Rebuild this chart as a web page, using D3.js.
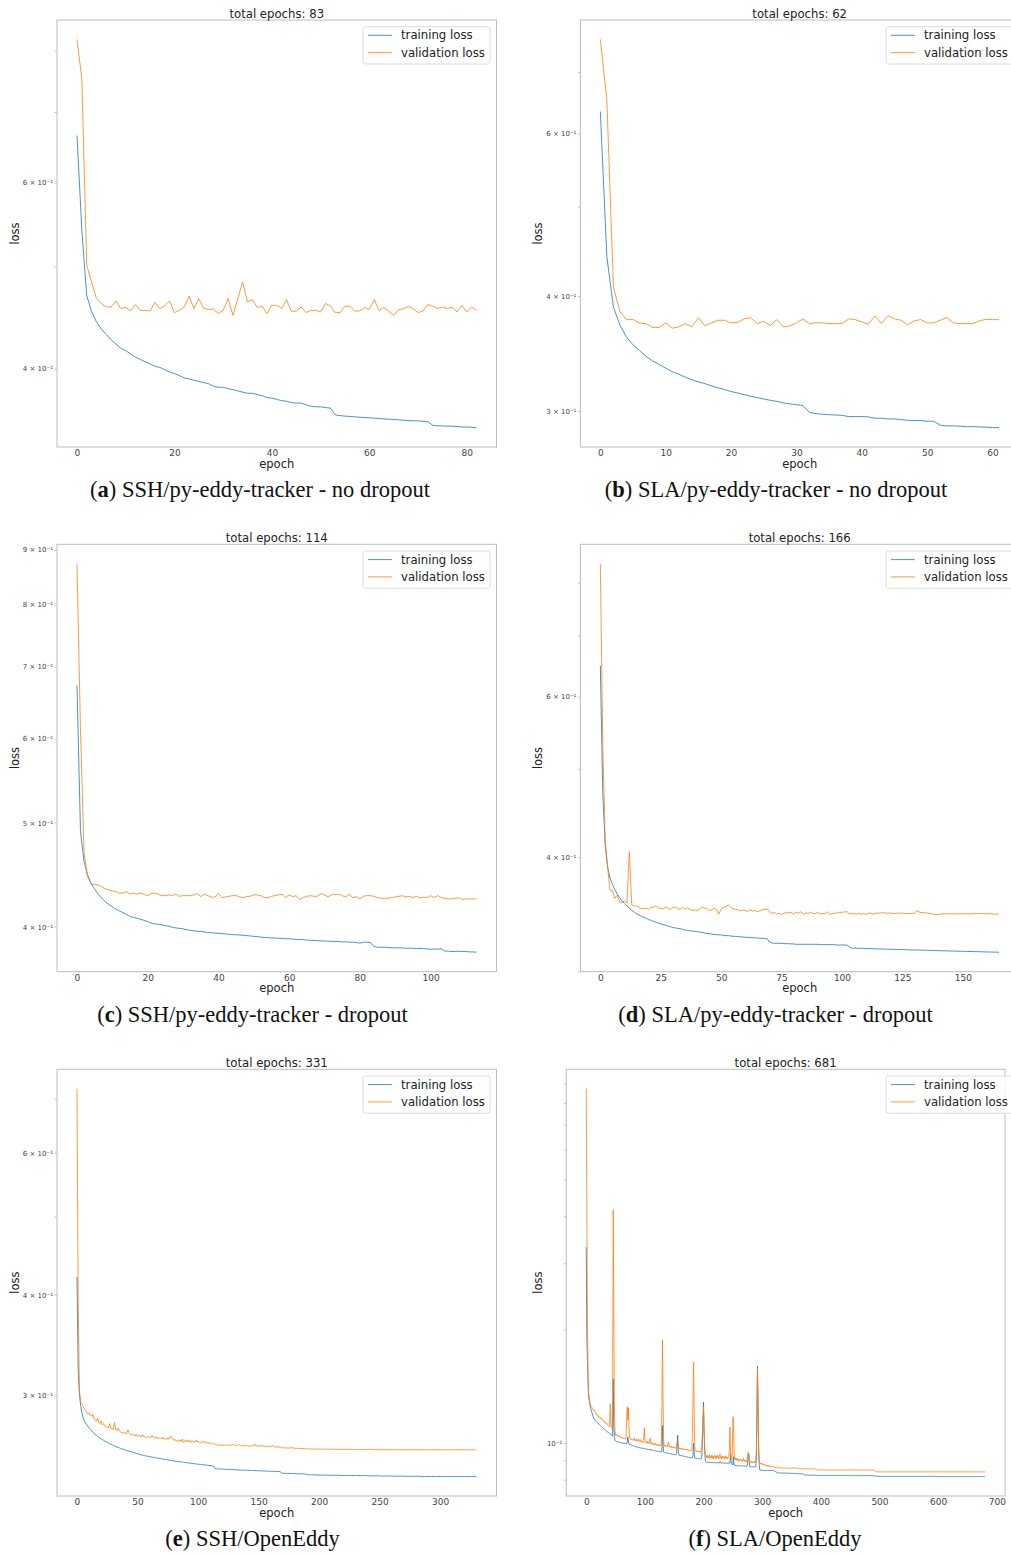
<!DOCTYPE html>
<html>
<head>
<meta charset="utf-8">
<script src="https://cdn.jsdelivr.net/npm/d3@7"></script>
<style>
  body { margin: 0; background: #fff; }
</style>
</head>
<body>
<script>
// ---- data (loss per epoch) ----

const trainA = [.665,.541,.469,.453,.443,.436,.431,.426,.422,.418,
  .416,.413,.410,.408,.406,.404,.402,.401,.3991,.397,
  .3957,.394,.392,.391,.390,.389,.388,.387,.385,.384,
  .384,.383,.382,.381,.380,.379,.379,.378,.377,.3755,
  .375,.374,.373,.3725,.3714,.371,.371,.3696,.3685,.368,
  .368,.3674,.367,.3616,.361,.3606,.3604,.360,.3598,.3595,
  .3593,.359,.3587,.3584,.3582,.358,.3577,.3574,.3572,.3569,
  .3569,.3566,.3564,.3535,.353,.353,.3528,.3528,.3525,.3522,
  .3522,.3519,.3517];
const valA = [.820,.753,.501,.483,.466,.461,.4575,.4575,.4636,.456,
  .457,.4536,.460,.4541,.4541,.4536,.4622,.456,.4585,.4636,
  .452,.4541,.4575,.4683,.456,.466,.4563,.455,.4556,.451,
  .4541,.466,.4493,.466,.483,.4626,.4649,.457,.4583,.451,
  .4592,.4592,.456,.4649,.4533,.4533,.4575,.452,.4541,.4541,
  .4525,.461,.4583,.452,.452,.4583,.4583,.4536,.4536,.457,
  .455,.4649,.4541,.457,.4533,.4493,.455,.4556,.4583,.4556,
  .452,.4533,.460,.4583,.456,.4575,.456,.4575,.4525,.4592,
  .4525,.4575,.4541];

const trainB = [.634,.441,.389,.3718,.361,.354,.349,.344,.340,.337,
  .334,.331,.329,.3265,.3245,.3227,.3213,.3195,.3179,.3166,
  .315,.3139,.3126,.3113,.3103,.3092,.3082,.3074,.3062,.3054,
  .3049,.3041,.2991,.2981,.2976,.2973,.2971,.2968,.2959,.2959,
  .2959,.2957,.2947,.2947,.2942,.2942,.2937,.2932,.293,.293,
  .2925,.2925,.2896,.2891,.2891,.2889,.2886,.2886,.2884,.2882,
  .2879,.2879];
const valB = [.759,.652,.409,.3843,.377,.377,.3739,.3733,.3696,.3696,
  .3739,.369,.3702,.3733,.3702,.3789,.3714,.3739,.3764,.3764,
  .3739,.3745,.3777,.3789,.3733,.3755,.3714,.377,.3702,.3711,
  .3739,.3777,.373,.3742,.3739,.3733,.3733,.3733,.3777,.377,
  .3748,.3727,.3805,.3733,.3808,.3777,.3764,.3721,.3758,.377,
  .3739,.3739,.3764,.3789,.3739,.3733,.3733,.3733,.3758,.3773,
  .377,.377];

const trainC = [.672,.491,.4605,.4475,.4396,.4343,.4294,.4257,.4226,.4202,
  .4178,.416,.4143,.4128,.4113,.4093,.4086,.4078,.4069,.406,
  .4049,.4037,.4029,.4026,.402,.4014,.4009,.4,.3994,.3991,
  .3986,.398,.3974,.3969,.3966,.3966,.396,.3954,.3954,.3951,
  .3949,.3946,.3943,.394,.3937,.3937,.3934,.3932,.3929,.3926,
  .3923,.392,.3917,.3912,.3912,.3909,.3909,.3906,.3906,.3903,
  .3903,.39,.3897,.3897,.3895,.3892,.3889,.3889,.3886,.3886,
  .3883,.3883,.388,.388,.388,.3877,.3877,.3874,.3874,.3872,
  .3866,.3874,.3874,.3872,.3838,.3832,.3832,.3832,.383,.3827,
  .3827,.3827,.3827,.3824,.3824,.3824,.3821,.3824,.3821,.3818,
  .3816,.3818,.3816,.3821,.3802,.38,.3797,.3797,.38,.3797,
  .3797,.3794,.3794,.3791];
const valC = [.873,.609,.469,.446,.439,.4387,.438,.4365,.4343,.4334,
  .4324,.4318,.4303,.4306,.4318,.4294,.4306,.4294,.4303,.4294,
  .4281,.43,.4306,.4294,.4281,.4281,.4288,.4281,.4296,.4275,
  .4281,.4281,.4281,.4288,.43,.4272,.4294,.4281,.4269,.4266,
  .4303,.4263,.4269,.4275,.4281,.4281,.4269,.4263,.4275,.4275,
  .4288,.4288,.4281,.4263,.4263,.4275,.4281,.4288,.4294,.4263,
  .4288,.4272,.4281,.4245,.4263,.4275,.4281,.4275,.4275,.43,
  .4288,.4269,.4288,.4294,.4294,.4281,.4269,.4294,.4263,.4272,
  .4251,.4275,.4281,.4281,.4275,.4263,.4257,.4257,.4257,.4263,
  .4269,.4275,.4281,.4269,.4275,.4263,.4275,.4263,.4266,.4263,
  .4281,.4263,.4281,.4263,.4257,.4251,.4251,.4257,.4263,.4245,
  .4251,.4251,.4251,.4251];

const trainD = [.649,.472,.4126,.3907,.380,.3737,.3687,.3647,.3614,.3584,
  .356,.3539,.3518,.35,.3486,.3471,.3459,.3448,.3439,.343,
  .3421,.3413,.3404,.3398,.339,.3382,.3376,.3371,.3365,.3359,
  .3353,.3348,.3345,.3342,.3337,.3331,.3328,.3325,.3322,.332,
  .3317,.3314,.3311,.3306,.3303,.33,.3297,.3294,.3292,.3291,
  .3289,.3286,.3284,.3284,.3281,.3278,.3278,.3276,.3273,.3273,
  .327,.327,.3267,.3267,.3265,.3265,.3262,.3262,.3259,.3259,
  .3232,.3224,.3221,.3221,.3221,.3221,.3218,.3218,.3218,.3216,
  .3216,.3213,.3213,.3213,.3213,.3213,.3213,.3213,.3213,.3213,
  .3213,.321,.321,.321,.321,.321,.321,.321,.3207,.3207,
  .3207,.3207,.3207,.3192,.3183,.3181,.3181,.3181,.3181,.318,
  .3178,.3178,.3178,.3177,.3176,.3176,.3175,.3175,.3174,.3173,
  .3173,.3172,.3172,.3171,.317,.3171,.317,.3169,.3168,.3168,
  .3167,.3167,.3166,.3166,.3165,.3165,.3164,.3164,.3163,.3162,
  .3162,.3161,.3161,.316,.316,.3159,.3159,.3158,.3158,.3157,
  .3157,.3156,.3156,.3155,.3155,.3154,.3154,.3153,.3153,.3152,
  .3152,.3151,.3151,.315,.315,.3149];
const valD = [.839,.535,.418,.3907,.3684,.3678,.3608,.3637,.3577,.3569,
  .3586,.3563,.4058,.3548,.354,.354,.3527,.3518,.3516,.3518,
  .3509,.3527,.3527,.354,.3521,.3518,.3513,.3527,.3521,.3504,
  .3527,.3527,.3518,.3509,.3527,.3509,.3524,.3509,.3498,.3504,
  .3498,.3509,.353,.3518,.3518,.3498,.3504,.3518,.3509,.3468,
  .3513,.3527,.3535,.3548,.3527,.3513,.3509,.3504,.3495,.3504,
  .3498,.3492,.3504,.3495,.3498,.3489,.3495,.3504,.3509,.3513,
  .3489,.3474,.3483,.3468,.3474,.3462,.3474,.3483,.3477,.3483,
  .3468,.3486,.3474,.3489,.3465,.3477,.3474,.3483,.3474,.3471,
  .3483,.3468,.3474,.3471,.3486,.3465,.3471,.3474,.3477,.3483,
  .3483,.3486,.3489,.3471,.3474,.3471,.3465,.3474,.3468,.3471,
  .3465,.3477,.3474,.3465,.3477,.3474,.3477,.348,.3477,.3474,
  .3477,.3474,.3471,.3477,.3474,.3477,.3471,.3474,.3471,.3474,
  .3474,.3498,.3486,.3477,.3483,.3477,.3474,.3471,.3465,.3462,
  .3465,.3468,.3468,.3471,.3468,.3471,.3468,.3471,.3468,.3471,
  .3468,.3471,.3471,.3468,.3471,.3474,.3471,.3474,.3471,.3471,
  .3468,.3474,.3471,.3465,.3468,.3468];

const trainE = [.421,.3223,.3015,.2916,.2861,.282,.2794,.2775,.2762,.2749,
  .2736,.2726,.2715,.2702,.2694,.2686,.2679,.2672,.2665,.2658,
  .2651,.2646,.2641,.2635,.263,.2625,.2619,.2614,.261,.2606,
  .2602,.2598,.2595,.2591,.2588,.2584,.2581,.2578,.2575,.2571,
  .2568,.2565,.2562,.256,.2557,.2554,.2552,.2549,.2547,.2544,
  .2542,.2539,.2537,.2534,.2532,.2529,.2527,.2526,.2524,.2522,
  .2521,.2519,.2517,.2516,.2514,.2512,.2511,.2509,.2508,.2506,
  .2505,.2503,.2502,.25,.2499,.2497,.2496,.2495,.2493,.2492,
  .249,.2489,.2487,.2486,.2485,.2484,.2483,.2482,.248,.2479,
  .2478,.2477,.2476,.2475,.2473,.2472,.2471,.247,.2469,.2468,
  .2467,.2466,.2465,.2464,.2463,.2462,.2461,.246,.2459,.2458,
  .2457,.2456,.2455,.2453,.2437,.2435,.2435,.2434,.2434,.2433,
  .2433,.2432,.2432,.2431,.2431,.243,.243,.243,.2429,.2429,
  .2428,.2428,.2427,.2427,.2427,.2426,.2426,.2425,.2425,.2425,
  .2424,.2424,.2424,.2423,.2423,.2423,.2422,.2422,.2422,.2421,
  .2421,.2421,.242,.242,.242,.2419,.2419,.2419,.2418,.2418,
  .2418,.2417,.2417,.2417,.2416,.2416,.2416,.2415,.2415,.2405,
  .2404,.2404,.2404,.2403,.2403,.2403,.2402,.2402,.2402,.2402,
  .2401,.2401,.2401,.2401,.24,.24,.24,.24,.2399,.2399,
  .2394,.2394,.2394,.2393,.2393,.2393,.2393,.2393,.2392,.2392,
  .2392,
  .2392,.2392,.2391,.2391,.2391,.2391,.2391,.2391,.239,.239,
  .239,.239,.239,.239,.239,.239,.239,.2389,.2389,.2389,
  .2389,.2389,.2389,.2389,.2389,.2389,.2389,.2389,.2388,.2388,
  .2388,.2388,.2388,.2388,.2388,.2388,.2388,.2388,.2388,.2387,
  .2387,.2386,.2386,.2386,.2386,.2386,.2386,.2386,.2386,.2386,
  .2385,.2385,.2385,.2385,.2385,.2385,.2385,.2385,.2385,.2385,
  .2384,.2384,.2384,.2384,.2384,.2384,.2384,.2384,.2384,.2384,
  .2384,.2383,.2383,.2383,.2383,.2383,.2383,.2383,.2383,.2383,
  .2383,.2383,.2383,.2382,.2382,.2382,.2382,.2382,.2382,.2382,
  .2382,.2382,.2382,.2382,.2382,.2382,.2382,.2382,.2382,.2382,
  .2382,.2382,.2381,.2381,.2381,.2381,.2381,.2381,.2381,.2381,
  .2381,.2381,.2381,.2381,.2381,.2381,.2381,.2381,.2381,.2381,
  .2381,.2381,.2381,.2381,.2381,.2381,.2381,.2381,.2381,.2381];
const valE = [.7205,.39,.305,.2944,.2935,.2915,.289,.2875,.2855,.2848,
  .2858,.2835,.283,.2845,.2808,.28,.279,.2815,.278,.277,
  .279,.276,.277,.275,.2745,.274,.2735,.277,.2735,.273,
  .2725,.278,.272,.2715,.2735,.2712,.2705,.27,.2695,.27,
  .2695,.269,.272,.27,.2685,.268,.269,.268,.2675,.269,
  .267,.268,.267,.2665,.2685,.2668,.2672,.2665,.266,.267,
  .2665,.266,.268,.2665,.2658,.267,.2655,.2662,.265,.266,
  .265,.2665,.2648,.2655,.2645,.266,.265,.2668,.2672,.265,
  .264,.2648,.2635,.264,.2632,.2645,.263,.265,.2625,.264,
  .263,.2645,.2628,.264,.2625,.264,.263,.2625,.2645,.2628,
  .2635,.2625,.262,.2632,.2625,.2635,.262,.2618,.263,.2615,
  .2625,.2618,.2612,.262,.261,.2605,.2608,.2604,.261,.2603,
  .2606,.2602,.2605,.2603,.2608,.2603,.2606,.2602,.2608,.2612,
  .2605,.2602,.2606,.2602,.261,.2601,.2598,.2603,.2599,.2604,
  .2598,.2601,.2596,.26,.2596,.2602,.2597,.2612,.2598,.2603,
  .2595,.26,.2596,.2606,.2594,.2598,.2593,.2597,.2593,.2596,
  .2592,.2598,.2603,.2593,.259,.2595,.2589,.2592,.2588,.2585,
  .2583,.2587,.2582,.2586,.2582,.2584,.2581,.2592,.2582,.2584,
  .258,.2583,.2579,.2582,.2578,.2581,.2578,.258,.2577,.2579,
  .2576,.2578,.2576,.2575,.2578,.2575,.2577,.2574,.2576,.2574,
  .2577,
  .2575,.2574,.2577,.2573,.2575,.2574,.2576,.2573,.2575,.2578,
  .2574,.2573,.2575,.2572,.2574,.2576,.2573,.2574,.2572,.2575,
  .2573,.2574,.2572,.2575,.2573,.2572,.2574,.2573,.2571,.2574,
  .2572,.2573,.2571,.2574,.2572,.2573,.2571,.2572,.2574,.2571,
  .2576,.2572,.2571,.2573,.2571,.2572,.257,.2572,.2571,.2573,
  .2571,.2572,.257,.2571,.2573,.257,.2571,.2572,.257,.2571,
  .2572,.257,.2571,.257,.2572,.2571,.257,.2571,.257,.2572,
  .257,.2571,.257,.2572,.257,.2571,.257,.2571,.2572,.257,
  .2571,.257,.2571,.257,.2572,.257,.2571,.257,.2571,.257,
  .2571,.257,.2572,.257,.2571,.257,.2571,.257,.257,.2571,
  .257,.2571,.257,.257,.2571,.257,.2571,.257,.257,.2571,
  .257,.257,.2571,.257,.257,.2571,.257,.257,.2571,.257,
  .257,.2571,.257,.257,.2571,.257,.257,.257,.2571,.257];

const trainF = [.331,.195,.1657,.1467,.1325,.1298,.1272,.1246,.123,.1215,
  .12,.1187,.1172,.1165,.1158,.1152,.1146,.1141,.1137,.1133,
  .1129,.1125,.1121,.1117,.1114,.111,.1106,.1103,.1099,.1096,
  .1092,.1089,.1085,.1082,.1079,.1075,.1072,.1069,.1066,.1062,
  .1059,.1056,.1053,.105,.1047,.1045,.148,.11,.104,.1016,
  .1014,.1012,.101,.1009,.1008,.1007,.1006,.1005,.1004,.1003,
  .1002,.1001,.1,.0999,.0999,.0998,.0998,.0997,.0997,.0996,
  .101,.104,.1005,.0992,.0991,.099,.0989,.0987,.0986,.0985,
  .0984,.0983,.0981,.098,.0979,.0978,.0976,.0975,.0975,.0974,
  .0973,.0972,.0972,.0971,.097,.097,.0969,.0968,.0967,.097,
  .0966,.0965,.0965,.0964,.0963,.0962,.0962,.0961,.096,.0965,
  .0959,.0959,.0958,.0957,.0957,.0956,.0955,.0955,.0954,.0953,
  .0953,.0952,.0951,.0951,.095,.0949,.0949,.0948,.0947,.096,
  .1114,.099,.0946,.0945,.0944,.0943,.0942,.0942,.0941,.094,
  .094,.0939,.0938,.0937,.0936,.0936,.0935,.0935,.0934,.0933,
  .0933,.0932,.0932,.0931,.0935,.099,.105,.095,.0929,.0928,
  .0928,.0927,.0926,.0926,.0925,.0924,.0924,.0923,.0922,.0921,
  .092,.0919,.0918,.0918,.0917,.0917,.0916,.0916,.0915,.0915,
  .0914,.0914,.0925,.1,.094,.0913,.0912,.0912,.0911,.0911,
  .0911,.091,.091,.091,.0909,.0909,.0909,.092,.1,.115,
  .1284,.105,.095,.09,.0893,.089,.0889,.0889,.0889,.0888,
  .0888,.0888,.0888,.0888,.0888,.0888,.0887,.0887,.0887,.0887,
  .0887,.0887,.0887,.0887,.0887,.0887,.0886,.0886,.0893,.0886,
  .0886,.0886,.0886,.0886,.0886,.0886,.0885,.0885,.0885,.0885,
  .0885,.0885,.0885,.0885,.0885,.0885,.0937,.0895,.0885,.088,
  .0875,.092,.088,.0872,.0872,.0872,.0872,.0871,.0871,.0871,
  .0871,.0871,.0871,.087,.087,.087,.087,.087,.087,.087,
  .0869,.0869,.0869,.0869,.0869,.088,.092,.0937,.089,.0866,
  .0866,.0866,.0866,.0866,.0866,.0865,.0865,.0865,.0865,.0865,
  .09,.12,.1597,.12,.095,.087,.0848,.0847,.0847,.0847,
  .0847,.0847,.0847,.0846,.0846,.0846,.0846,.0846,.0846,.0846,
  .0846,.0846,.0846,.0846,.0846,.0846,.0846,.0846,.0846,.0846,
  .0846,.0844,.0842,.084,.0838,.0836,.0834,.0834,.0834,.0834,
  .0833,.0833,.0833,.0833,.0833,.0833,.0833,.0833,.0833,.0833,
  .0833,.0833,.0832,.0832,.0832,.0832,.0832,.0832,.0832,.0832,
  .0831,.0831,.0831,.0831,.0831,.0831,.0831,.0831,.0831,.0831,
  .0831,.083,.083,.083,.083,.083,.0829,.0829,.0829,.0829,
  .0829,.0826,.0824,.0823,.0823,.0822,.0822,.0822,.0822,.0822,
  .0822,.0822,.0822,.0822,.0822,.0822,.0822,.0822,.0822,.0822,
  .0821,.0821,.0821,.0821,.0821,.0821,.0821,.0821,.0821,.0821,
  .0821,.0821,.0821,.0821,.0821,.0821,.0821,.0821,.0821,.0821,
  .0821,.0821,.0821,.0821,.0821,.0821,.0821,.0821,.0821,.0821,
  .0821,.0821,.0821,.0821,.0821,.0821,.0821,.0821,.0821,.0821,
  .0821,.0821,.0821,.0821,.0821,.0821,.0821,.0821,.0821,.0821,
  .0821,.0821,.0821,.0821,.0821,.0821,.0821,.0821,.0821,.0821,
  .082,.082,.082,.082,.082,.082,.082,.082,.082,.082,
  .082,.082,.082,.082,.082,.082,.082,.082,.082,.082,
  .082,.082,.082,.082,.082,.082,.082,.082,.082,.082,
  .082,.082,.082,.082,.082,.082,.082,.082,.082,.082,
  .0819,.0818,.0818,.0818,.0817,.0817,.0817,.0817,.0817,.0817,
  .0816,.0816,.0816,.0816,.0816,.0816,.0816,.0816,.0816,.0816,
  .0816,.0816,.0816,.0816,.0816,.0816,.0816,.0816,.0816,.0816,
  .0816,.0816,.0816,.0816,.0816,.0816,.0816,.0816,.0816,.0816,
  .0816,.0816,.0816,.0816,.0816,.0816,.0816,.0816,.0816,.0816,
  .0816,.0816,.0816,.0816,.0816,.0816,.0816,.0816,.0816,.0816,
  .0816,.0816,.0816,.0816,.0816,.0816,.0816,.0816,.0816,.0816,
  .0816,.0816,.0816,.0816,.0816,.0816,.0816,.0816,.0816,.0816,
  .0816,.0816,.0816,.0816,.0816,.0816,.0816,.0816,.0816,.0816,
  .0816,.0816,.0816,.0816,.0816,.0816,.0816,.0816,.0816,.0816,
  .0816,.0816,.0816,.0816,.0816,.0816,.0816,.0816,.0816,.0816,
  .0815,.0815,.0815,.0815,.0815,.0815,.0815,.0815,.0815,.0815,
  .0815,.0815,.0815,.0815,.0815,.0815,.0815,.0815,.0815,.0815,
  .0815,.0815,.0815,.0815,.0815,.0815,.0815,.0815,.0815,.0815,
  .0815,.0815,.0815,.0815,.0815,.0815,.0815,.0815,.0815,.0815,
  .0815,.0815,.0815,.0815,.0815,.0815,.0815,.0815,.0815,.0815,
  .0815,.0815,.0815,.0815,.0815,.0815,.0815,.0815,.0815,.0815,
  .0815,.0815,.0815,.0815,.0815,.0815,.0815,.0815,.0815,.0815,
  .0815,.0815,.0815,.0815,.0815,.0815,.0815,.0815,.0815,.0815,
  .0815];
const valF = [.872,.441,.216,.156,.1352,.133,.1295,.1262,.1255,.1248,
  .124,.1232,.1226,.1218,.1222,.1205,.1198,.12,.1186,.1182,
  .1185,.1176,.117,.1175,.1163,.116,.1166,.1152,.1148,.115,
  .114,.1138,.1142,.113,.1126,.1132,.1118,.1115,.111,.1106,
  .114,.1272,.111,.1098,.1095,.13,.416,.22,.125,.108,
  .105,.1048,.1055,.1044,.104,.1046,.1038,.1042,.1035,.104,
  .1033,.1036,.103,.1034,.1028,.1032,.1026,.103,.1045,.118,
  .125,.115,.124,.109,.1035,.1025,.1028,.102,.1024,.1018,
  .1022,.1016,.103,.1018,.1014,.1026,.1016,.102,.1012,.1024,
  .1014,.101,.1022,.1008,.1012,.1005,.101,.1004,.103,.1096,
  .102,.1004,.1,.1006,.0998,.1012,.1002,.0996,.1008,.103,
  .0998,.0994,.1004,.0992,.0998,.099,.0996,.099,.1,.0988,
  .0992,.0986,.0994,.0985,.099,.0984,.0992,.0983,.1,.125,
  .188,.13,.101,.0985,.0982,.0988,.098,.0985,.0978,.099,
  .1006,.0985,.0976,.0982,.0974,.098,.0972,.0978,.0971,.0976,
  .097,.0975,.0968,.0974,.098,.1013,.1013,.0975,.0966,.0972,
  .0965,.097,.0963,.0968,.0962,.0967,.0961,.0965,.096,.0964,
  .0958,.0963,.0957,.0962,.0956,.096,.0955,.0959,.0954,.0958,
  .096,.105,.13,.164,.12,.098,.0955,.095,.0956,.0948,
  .0953,.0947,.0952,.0946,.095,.0945,.0955,.098,.105,.115,
  .1246,.108,.097,.094,.0925,.0915,.093,.0912,.0925,.0918,
  .0932,.091,.0922,.0915,.093,.0912,.0926,.0908,.092,.0928,
  .0912,.0924,.091,.093,.0915,.0922,.0908,.0926,.0935,.0912,
  .092,.0908,.0925,.0914,.0922,.0906,.092,.0912,.0926,.091,
  .0918,.0906,.0915,.0925,.096,.1103,.095,.0912,.0908,.0935,
  .1172,.1172,.095,.0905,.0915,.0902,.091,.0898,.0912,.09,
  .0906,.0896,.0904,.0908,.0898,.0902,.0894,.0905,.0912,.0896,
  .0902,.0893,.09,.0892,.0898,.092,.0946,.093,.09,.0892,
  .0896,.0888,.0894,.0886,.0892,.0888,.0895,.0886,.089,.09,
  .095,.115,.1575,.125,.098,.09,.0888,.0882,.0885,.0878,
  .0884,.0876,.088,.0874,.0878,.0872,.0876,.087,.0875,.0868,
  .0873,.0867,.0871,.0866,.0869,.0865,.0868,.0864,.0867,.0863,
  .0866,.0862,.0865,.0862,.0864,.0861,.086,.0862,.0859,.0861,
  .086,.0859,.0861,.0858,.086,.0859,.0858,.086,.0859,.0858,
  .086,.0858,.0859,.0857,.0859,.0858,.086,.0857,.0859,.0858,
  .0857,.0859,.0858,.0862,.0857,.0858,.0861,.0857,.0858,.0856,
  .0858,.0857,.0856,.0858,.0857,.0856,.0856,.0855,.0855,.0856,
  .0855,.0854,.0855,.0854,.0856,.0854,.0855,.0854,.0855,.0854,
  .0855,.0854,.0854,.0856,.0854,.0855,.0854,.0854,.0855,.0858,
  .0856,.0854,.0853,.085,.0849,.0849,.0849,.0849,.0849,.0849,
  .0849,.0849,.0848,.0849,.0849,.0849,.0848,.0849,.0849,.0849,
  .0849,.0848,.0849,.0849,.0849,.0849,.0849,.0848,.0849,.0849,
  .0849,.0849,.0849,.0848,.0849,.0849,.0849,.0849,.0848,.0849,
  .0848,.0849,.0849,.0849,.0849,.0848,.0849,.0849,.0849,.0849,
  .0849,.0849,.0848,.0849,.0849,.0849,.0849,.0849,.0848,.0849,
  .0849,.0848,.0849,.0849,.0849,.0848,.0849,.0849,.0849,.0849,
  .0849,.0849,.0849,.0849,.0848,.0849,.0849,.0848,.0849,.0849,
  .0848,.0849,.0849,.0849,.0849,.0849,.0848,.0849,.0849,.0849,
  .0849,.0849,.0848,.0849,.0849,.0848,.0849,.0849,.0849,.0849,
  .0849,.0847,.0844,.0841,.084,.0839,.0839,.0839,.0839,.0839,
  .0839,.0839,.0839,.0839,.0839,.0839,.0839,.0839,.0839,.0839,
  .0839,.0839,.0839,.0839,.0839,.0839,.0839,.0839,.0839,.0839,
  .0839,.0839,.0839,.0839,.0839,.0839,.0839,.0839,.0839,.0839,
  .0839,.0839,.0839,.0839,.0839,.0839,.0839,.0839,.0839,.0839,
  .0839,.0839,.0839,.0839,.0839,.0839,.0839,.0839,.0839,.0839,
  .0839,.0839,.0839,.0839,.0839,.0839,.0839,.0839,.0839,.0839,
  .0839,.0839,.0839,.0839,.0839,.0839,.0839,.0839,.0839,.0839,
  .0839,.0839,.0839,.0839,.0839,.0839,.0839,.0839,.0839,.0839,
  .0839,.0839,.0839,.0839,.0839,.0839,.0839,.0839,.0839,.0839,
  .0839,.0839,.0839,.0839,.0839,.0839,.0839,.0839,.0839,.0839,
  .0839,.0839,.0839,.0839,.0839,.0839,.0839,.0839,.0839,.0839,
  .0839,.0839,.0839,.0839,.0839,.0839,.0839,.0839,.0839,.0839,
  .0839,.0839,.0839,.0839,.0839,.0839,.0839,.0839,.0839,.0839,
  .0839,.0839,.0839,.0839,.0839,.0839,.0839,.0839,.0839,.0839,
  .0839,.0839,.0839,.0839,.0839,.0839,.0839,.0839,.0839,.0839,
  .0839,.0839,.0839,.0839,.0839,.0839,.0839,.0839,.0839,.0839,
  .0839,.0839,.0839,.0839,.0839,.0839,.0839,.0839,.0839,.0839,
  .0839,.0839,.0839,.0839,.0839,.0839,.0839,.0839,.0839,.0839,
  .0838];

// tick values and labels
const xTicksA = [0, 20, 40, 60, 80];
const xTicksB = [0, 10, 20, 30, 40, 50, 60];
const xTicksC = [0, 20, 40, 60, 80, 100];
const xTicksD = [0, 25, 50, 75, 100, 125, 150];
const xTicksE = [0, 50, 100, 150, 200, 250, 300];
const xTicksF = [0, 100, 200, 300, 400, 500, 600, 700];

const yLabelsA = [0.4, 0.6];
const yLabelsB = [0.3, 0.4, 0.6];
const yLabelsC = [0.4, 0.5, 0.6, 0.7, 0.8, 0.9];
const yLabelsD = [0.4, 0.6];
const yLabelsE = [0.3, 0.4, 0.6];
const yLabelsF = [0.1];

const seriesNames = ["training loss", "validation loss"];
const captions = [
  ["a", "SSH/py-eddy-tracker - no dropout"],
  ["b", "SLA/py-eddy-tracker - no dropout"],
  ["c", "SSH/py-eddy-tracker - dropout"],
  ["d", "SLA/py-eddy-tracker - dropout"],
  ["e", "SSH/OpenEddy"],
  ["f", "SLA/OpenEddy"]
];

// ---- layout ----
const width = 1011, height = 1555;
const blue = "#1f77b4", orange = "#ff7f0e";
const sans = "'DejaVu Sans', sans-serif";

const panels = [
  {train: trainA, val: valA, xt: xTicksA, yl: yLabelsA, cap: captions[0],
   left: 57, right: 496.5, top: 20, bottom: 447, legX: 363, lossX: 19.3, capX: 260, capY: 497},
  {train: trainB, val: valB, xt: xTicksB, yl: yLabelsB, cap: captions[1],
   left: 580.4, right: 1019, top: 20, bottom: 447, legX: 886, lossX: 542.3, capX: 776, capY: 497},
  {train: trainC, val: valC, xt: xTicksC, yl: yLabelsC, cap: captions[2],
   left: 57, right: 496.5, top: 544.3, bottom: 971.7, legX: 363, lossX: 19.3, capX: 252.5, capY: 1022},
  {train: trainD, val: valD, xt: xTicksD, yl: yLabelsD, cap: captions[3],
   left: 580.4, right: 1019, top: 544.3, bottom: 971.7, legX: 886, lossX: 542.3, capX: 775.5, capY: 1022},
  {train: trainE, val: valE, xt: xTicksE, yl: yLabelsE, cap: captions[4],
   left: 57, right: 496.5, top: 1069.3, bottom: 1496, legX: 363, lossX: 19.3, capX: 252.5, capY: 1546},
  {train: trainF, val: valF, xt: xTicksF, yl: yLabelsF, cap: captions[5],
   left: 566.3, right: 1005, top: 1069.3, bottom: 1496, legX: 886, lossX: 542.3, capX: 775, capY: 1546}
];

const svg = d3.select("body")
  .append("svg")
    .attr("width", width)
    .attr("height", height)
    .style("background", "#fff");

const supChars = {"-": "\u207B", "0": "\u2070", "1": "\u00B9", "2": "\u00B2", "3": "\u00B3"};

function logLabel(v) {
  const e = Math.floor(Math.log10(v) + 1e-9);
  const m = Math.round(v / Math.pow(10, e));
  const ex = String(e).split("").map(c => supChars[c]).join("");
  return (m === 1 ? "" : m + " \u00D7 ") + "10" + ex;
}

function drawPanel(p) {
  const g = svg.append("g");
  const n = p.train.length;

  const x = d3.scaleLinear()
    .domain([-(n - 1) * 0.05, (n - 1) * 1.05])
    .range([p.left, p.right]);

  const all = p.train.concat(p.val);
  const lo = Math.log10(d3.min(all)), hi = Math.log10(d3.max(all));
  const pad = (hi - lo) * 0.05;
  const y = d3.scaleLog()
    .domain([Math.pow(10, lo - pad), Math.pow(10, hi + pad)])
    .range([p.bottom, p.top]);

  // every 1..9 x 10^k inside the domain gets a tick mark, only some get a label
  const yTicks = [];
  for (let e = -2; e <= 0; e++) {
    for (let k = 1; k <= 9; k++) {
      const v = +(k * Math.pow(10, e)).toPrecision(6);
      if (v >= y.domain()[0] && v <= y.domain()[1]) yTicks.push(v);
    }
  }

  g.append("g")
    .attr("transform", "translate(" + p.left + ",0)")
    .call(d3.axisLeft(y)
      .tickValues(yTicks)
      .tickSize(2.5)
      .tickPadding(1.5)
      .tickFormat(v => p.yl.some(l => Math.abs(l - v) < 1e-9) ? logLabel(v) : ""))
    .call(a => a.select(".domain").remove())
    .call(a => a.selectAll("line").attr("stroke", "#c4c4c4"))
    .call(a => a.selectAll("text")
      .attr("fill", "#444")
      .style("font-family", sans)
      .style("font-size", "7px"));

  g.append("g")
    .attr("transform", "translate(0," + p.bottom + ")")
    .call(d3.axisBottom(x)
      .tickValues(p.xt)
      .tickSize(0)
      .tickPadding(3)
      .tickFormat(d3.format("d")))
    .call(a => a.select(".domain").remove())
    .call(a => a.selectAll("text")
      .attr("fill", "#444")
      .style("font-family", sans)
      .style("font-size", "9px"));

  const line = d3.line()
    .x((d, i) => x(i))
    .y(d => y(d));

  g.append("path")
    .datum(p.train)
    .attr("d", line)
    .attr("fill", "none")
    .attr("stroke", blue)
    .attr("stroke-width", 1)
    .attr("stroke-opacity", 0.8);

  g.append("path")
    .datum(p.val)
    .attr("d", line)
    .attr("fill", "none")
    .attr("stroke", orange)
    .attr("stroke-width", 1)
    .attr("stroke-opacity", 0.8);

  // frame
  g.append("rect")
    .attr("x", p.left)
    .attr("y", p.top)
    .attr("width", p.right - p.left)
    .attr("height", p.bottom - p.top)
    .attr("fill", "none")
    .attr("stroke", "#bdbdbd")
    .attr("stroke-width", 1);

  const cx = (p.left + p.right) / 2;

  g.append("text")
    .attr("x", cx)
    .attr("y", p.top - 2)
    .attr("text-anchor", "middle")
    .attr("fill", "#222")
    .style("font-family", sans)
    .style("font-size", "11.7px")
    .text("total epochs: " + n);

  g.append("text")
    .attr("x", cx)
    .attr("y", p.bottom + 20.5)
    .attr("text-anchor", "middle")
    .attr("fill", "#222")
    .style("font-family", sans)
    .style("font-size", "11.5px")
    .text("epoch");

  g.append("text")
    .attr("transform", "translate(" + p.lossX + "," + (p.top + p.bottom) / 2 + ") rotate(-90)")
    .attr("text-anchor", "middle")
    .attr("fill", "#222")
    .style("font-family", sans)
    .style("font-size", "11.5px")
    .text("loss");

  // legend
  const leg = g.append("g").attr("transform", "translate(" + p.legX + "," + (p.top + 6.7) + ")");
  leg.append("rect")
    .attr("width", 127)
    .attr("height", 37.3)
    .attr("rx", 2.5)
    .attr("fill", "#fff")
    .attr("fill-opacity", 0.8)
    .attr("stroke", "#dcdcdc")
    .attr("stroke-width", 1);
  [blue, orange].forEach((c, i) => {
    const yy = 8.6 + i * 17.3;
    leg.append("line")
      .attr("x1", 5).attr("x2", 29)
      .attr("y1", yy).attr("y2", yy)
      .attr("stroke", c)
      .attr("stroke-opacity", 0.8)
      .attr("stroke-width", 1);
    leg.append("text")
      .attr("x", 38)
      .attr("y", yy + 4)
      .attr("fill", "#222")
      .style("font-family", sans)
      .style("font-size", "11.7px")
      .text(seriesNames[i]);
  });

  // sub-figure caption
  const cap = svg.append("text")
    .attr("x", p.capX)
    .attr("y", p.capY)
    .attr("text-anchor", "middle")
    .attr("fill", "#111")
    .style("font-family", "'Liberation Serif', 'DejaVu Serif', serif")
    .style("font-size", "22.5px");
  cap.append("tspan").text("(");
  cap.append("tspan").style("font-weight", "bold").text(p.cap[0]);
  cap.append("tspan").text(") " + p.cap[1]);
}

panels.forEach(drawPanel);
</script>
</body>
</html>
